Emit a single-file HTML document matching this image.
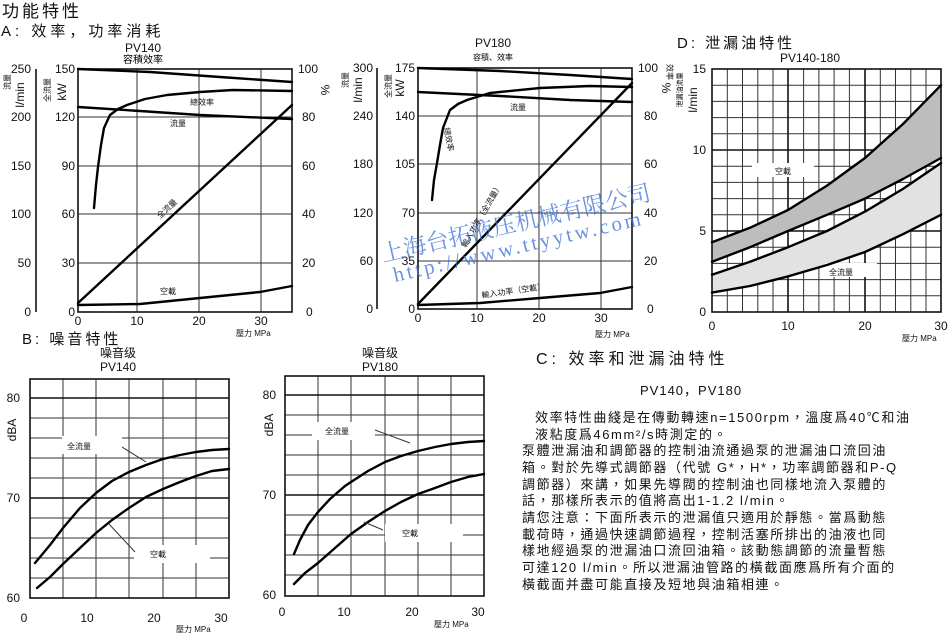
<!DOCTYPE html>
<html><head><meta charset="utf-8"><style>
html,body{margin:0;padding:0;background:#fff;}
svg{display:block;font-family:"Liberation Sans","Noto Sans CJK SC",sans-serif;}
.g{stroke:#333;stroke-width:1;fill:none}
.b{stroke:#111;stroke-width:1.6;fill:none}
.c{stroke:#000;stroke-width:2.4;fill:none;stroke-linejoin:round;stroke-linecap:round}
.t{font-size:12px;fill:#111}
.s{font-size:8px;fill:#111}
.body{font-size:13px;fill:#111;letter-spacing:1.6px;font-family:"Liberation Sans","Noto Sans CJK TC",sans-serif}
</style></head><body>
<svg width="950" height="633" viewBox="0 0 950 633" xmlns="http://www.w3.org/2000/svg">
<text x="2" y="17" font-size="17" fill="#111" letter-spacing="3">功能特性</text>
<text x="1" y="36" font-size="15" fill="#111" letter-spacing="4">A:  效率，功率消耗</text>

<!-- ===== A1 PV140 ===== -->
<text x="143" y="52" class="t" text-anchor="middle">PV140</text>
<text x="143" y="63" font-size="10" text-anchor="middle">容積效率</text>
<g class="g">
<line x1="137" y1="69" x2="137" y2="312"/><line x1="199" y1="69" x2="199" y2="312"/><line x1="261" y1="69" x2="261" y2="312"/>
<line x1="78" y1="117" x2="292" y2="117"/><line x1="78" y1="166" x2="292" y2="166"/><line x1="78" y1="214" x2="292" y2="214"/><line x1="78" y1="263" x2="292" y2="263"/>
</g>
<rect x="78" y="69" width="214" height="243" class="b"/>
<line x1="36" y1="69" x2="36" y2="312" class="b"/>
<g class="t" text-anchor="end">
<text x="31" y="73">250</text><text x="31" y="121">200</text><text x="31" y="170">150</text><text x="31" y="218">100</text><text x="31" y="267">50</text><text x="31" y="316">0</text>
<text x="75" y="73">150</text><text x="75" y="121">120</text><text x="75" y="170">90</text><text x="75" y="218">60</text><text x="75" y="267">30</text><text x="75" y="316">0</text>
</g>
<g class="t">
<text x="298" y="73">100</text><text x="302" y="121">80</text><text x="302" y="170">60</text><text x="302" y="218">40</text><text x="302" y="267">20</text><text x="306" y="316">0</text>
<text x="78" y="325" text-anchor="middle">0</text><text x="137" y="325" text-anchor="middle">10</text><text x="199" y="325" text-anchor="middle">20</text><text x="261" y="325" text-anchor="middle">30</text>
</g>
<text x="236" y="336" class="s">壓力  MPa</text>
<text transform="translate(10,82) rotate(-90)" class="s" text-anchor="middle">流量</text>
<text transform="translate(24,95) rotate(-90)" class="t" text-anchor="middle">l/min</text>
<text transform="translate(50,90) rotate(-90)" class="s" text-anchor="middle">全流量</text>
<text transform="translate(66,92) rotate(-90)" class="t" text-anchor="middle">kW</text>
<text transform="translate(321,90) rotate(90)" class="t" text-anchor="middle">%</text>
<polyline class="c" points="78,69 150,72 220,77 292,82"/>
<polyline class="c" points="78,107 140,111 200,115 292,119"/>
<polyline class="c" points="94,208 96,185 98,167 101,145 104,128 110,115 118,109 127,105 145,99 167,95 200,92 233,90 292,91"/>
<polyline class="c" points="78,303 292,105"/>
<polyline class="c" points="78,305 140,304 170,301 200,298 230,295 260,292 292,286"/>
<text x="190" y="105" class="s">總效率</text>
<text x="170" y="126" class="s">流量</text>
<text transform="translate(160,219) rotate(-43)" class="s">全流量</text>
<text x="160" y="294" class="s">空載</text>

<!-- ===== A2 PV180 ===== -->
<text x="493" y="47" class="t" text-anchor="middle">PV180</text>
<text x="493" y="60" font-size="8" text-anchor="middle">容積、效率</text>
<g class="g">
<line x1="477" y1="68" x2="477" y2="309"/><line x1="539" y1="68" x2="539" y2="309"/><line x1="601" y1="68" x2="601" y2="309"/>
<line x1="418" y1="116" x2="632" y2="116"/><line x1="418" y1="164" x2="632" y2="164"/><line x1="418" y1="213" x2="632" y2="213"/><line x1="418" y1="261" x2="632" y2="261"/>
</g>
<rect x="418" y="68" width="214" height="241" class="b"/>
<line x1="377" y1="68" x2="377" y2="309" class="b"/>
<g class="t" text-anchor="end">
<text x="373" y="72">300</text><text x="373" y="120">240</text><text x="373" y="168">180</text><text x="373" y="217">120</text><text x="373" y="265">60</text><text x="373" y="313">0</text>
<text x="415" y="72">175</text><text x="415" y="120">140</text><text x="415" y="168">105</text><text x="415" y="217">70</text><text x="415" y="265">35</text><text x="415" y="313">0</text>
</g>
<g class="t">
<text x="638" y="72">100</text><text x="644" y="120">80</text><text x="644" y="168">60</text><text x="644" y="217">40</text><text x="644" y="265">20</text><text x="647" y="313">0</text>
<text x="418" y="322" text-anchor="middle">0</text><text x="477" y="322" text-anchor="middle">10</text><text x="539" y="322" text-anchor="middle">20</text><text x="601" y="322" text-anchor="middle">30</text>
</g>
<text x="595" y="337" class="s">壓力  MPa</text>
<text transform="translate(348,80) rotate(-90)" class="s" text-anchor="middle">流量</text>
<text transform="translate(362,90) rotate(-90)" class="t" text-anchor="middle">l/min</text>
<text transform="translate(391,86) rotate(-90)" class="s" text-anchor="middle">全流量</text>
<text transform="translate(404,88) rotate(-90)" class="t" text-anchor="middle">kW</text>
<text transform="translate(662,88) rotate(90)" class="t" text-anchor="middle">%</text>
<text transform="translate(667,72) rotate(90)" class="s" text-anchor="middle">效率</text>
<polyline class="c" points="418,68 500,71 570,75 632,79"/>
<polyline class="c" points="418,92 500,96 570,100 632,102"/>
<polyline class="c" points="432,200 434,180 437,163 440,145 443,128 450,110 458,104 467,100 490,93 540,88 590,86 632,87"/>
<polyline class="c" points="418,304 632,83"/>
<polyline class="c" points="418,305 480,303 540,298 600,293 632,287"/>
<text x="510" y="110" class="s">流量</text>
<text transform="translate(444,128) rotate(80)" class="s">總效率</text>
<text transform="translate(466,248) rotate(-60)" class="s">輸入功率（全流量）</text>
<text transform="translate(482,298) rotate(-8)" class="s">輸入功率（空載）</text>

<!-- ===== D ===== -->
<text x="677" y="48" font-size="15" fill="#111" letter-spacing="3">D:  泄漏油特性</text>
<text x="810" y="62" class="t" text-anchor="middle">PV140-180</text>
<g class="g" stroke-width="0.9">
<line x1="727.3" y1="69" x2="727.3" y2="312"/><line x1="742.5" y1="69" x2="742.5" y2="312"/><line x1="757.8" y1="69" x2="757.8" y2="312"/><line x1="773" y1="69" x2="773" y2="312"/>
<line x1="803.6" y1="69" x2="803.6" y2="312"/><line x1="818.9" y1="69" x2="818.9" y2="312"/><line x1="834.1" y1="69" x2="834.1" y2="312"/><line x1="849.4" y1="69" x2="849.4" y2="312"/>
<line x1="880.3" y1="69" x2="880.3" y2="312"/><line x1="895.5" y1="69" x2="895.5" y2="312"/><line x1="910.8" y1="69" x2="910.8" y2="312"/><line x1="926" y1="69" x2="926" y2="312"/>
<line x1="712" y1="85.2" x2="941" y2="85.2"/><line x1="712" y1="101.4" x2="941" y2="101.4"/><line x1="712" y1="117.6" x2="941" y2="117.6"/><line x1="712" y1="133.8" x2="941" y2="133.8"/>
<line x1="712" y1="166.2" x2="941" y2="166.2"/><line x1="712" y1="182.4" x2="941" y2="182.4"/><line x1="712" y1="198.6" x2="941" y2="198.6"/><line x1="712" y1="214.8" x2="941" y2="214.8"/>
<line x1="712" y1="247.2" x2="941" y2="247.2"/><line x1="712" y1="263.4" x2="941" y2="263.4"/><line x1="712" y1="279.6" x2="941" y2="279.6"/><line x1="712" y1="295.8" x2="941" y2="295.8"/>
</g>
<g class="b"><line x1="788" y1="69" x2="788" y2="312"/><line x1="865" y1="69" x2="865" y2="312"/><line x1="712" y1="150" x2="941" y2="150"/><line x1="712" y1="231" x2="941" y2="231"/></g>
<polygon fill="#bdbdbd" points="712,242.3 750,227.8 788,210 827,185.6 865,158 903,124 941,85.2 941,158 903,179 865,198.6 827,214.8 788,231 750,247.2 712,261.8"/>
<polygon fill="#e2e2e2" points="712,274.7 750,261.8 788,247.2 827,231 865,211.6 903,188.9 941,163 941,214.8 903,234.2 865,252 827,265 788,276.4 750,286 712,292.6"/>
<rect x="712" y="69" width="229" height="243" class="b"/>
<rect x="752" y="163" width="62" height="14" fill="#fff"/>
<rect x="825" y="263" width="52" height="14" fill="#fff"/>
<polyline class="c" points="712,242.3 750,227.8 788,210 827,185.6 865,158 903,124 941,85.2"/>
<polyline class="c" points="712,261.8 750,247.2 788,231 827,214.8 865,198.6 903,179 941,158"/>
<polyline class="c" points="712,274.7 750,261.8 788,247.2 827,231 865,211.6 903,188.9 941,163"/>
<polyline class="c" points="712,292.6 750,286 788,276.4 827,265 865,252 903,234.2 941,214.8"/>
<text x="775" y="174" class="s">空載</text>
<text x="829" y="275" class="s">全流量</text>
<g class="t" text-anchor="end"><text x="706" y="73">15</text><text x="706" y="154">10</text><text x="706" y="235">5</text><text x="706" y="316">0</text></g>
<g class="t" text-anchor="middle"><text x="712" y="330">0</text><text x="788" y="330">10</text><text x="865" y="330">20</text><text x="941" y="330">30</text></g>
<text x="902" y="341" class="s">壓力  MPa</text>
<text transform="translate(697,100) rotate(-90)" class="t" text-anchor="middle">l/min</text>
<text transform="translate(682,90) rotate(-90)" font-size="7" text-anchor="middle">泄漏油流量</text>

<!-- ===== B ===== -->
<text x="22" y="344" font-size="15" fill="#111" letter-spacing="3">B:  噪音特性</text>
<!-- B1 -->
<text x="118" y="357" class="t" text-anchor="middle">噪音级</text>
<text x="118" y="371" class="t" text-anchor="middle">PV140</text>
<g class="g">
<line x1="63" y1="379" x2="63" y2="598"/><line x1="96" y1="379" x2="96" y2="598"/><line x1="129" y1="379" x2="129" y2="598"/><line x1="163" y1="379" x2="163" y2="598"/><line x1="196" y1="379" x2="196" y2="598"/>
<line x1="30" y1="418" x2="229" y2="418"/><line x1="30" y1="438" x2="229" y2="438"/><line x1="30" y1="458" x2="229" y2="458"/><line x1="30" y1="478" x2="229" y2="478"/>
<line x1="30" y1="518" x2="229" y2="518"/><line x1="30" y1="538" x2="229" y2="538"/><line x1="30" y1="558" x2="229" y2="558"/><line x1="30" y1="578" x2="229" y2="578"/>
</g>
<g class="b"><line x1="30" y1="398" x2="229" y2="398"/><line x1="30" y1="498" x2="229" y2="498"/></g>
<rect x="30" y="379" width="199" height="219" class="b"/>
<rect x="62" y="436" width="60" height="18" fill="#fff"/>
<rect x="134" y="545" width="76" height="18" fill="#fff"/>
<polyline class="c" points="35,563 40,557 50,545 63,528 80,508 96,493 112,481 129,472 146,465 163,459 180,455 196,452 212,450 229,449"/>
<polyline class="c" points="37,588 50,577 63,564 80,548 96,533 112,520 129,508 146,497 163,489 180,482 196,476 212,471 229,469"/>
<polyline class="g" points="122,447 146,462"/>
<polyline class="g" points="109,524 135,552"/>
<text x="67" y="449" class="s">全流量</text>
<text x="150" y="557" class="s">空載</text>
<g class="t" text-anchor="end"><text x="20" y="402">80</text><text x="20" y="502">70</text><text x="20" y="602">60</text></g>
<g class="t" text-anchor="middle"><text x="24" y="622">0</text><text x="87" y="622">10</text><text x="154" y="622">20</text><text x="221" y="622">30</text></g>
<text x="176" y="632" class="s">壓力  MPa</text>
<text transform="translate(16,430) rotate(-90)" class="t" text-anchor="middle">dBA</text>
<!-- B2 -->
<text x="380" y="357" class="t" text-anchor="middle">噪音级</text>
<text x="380" y="371" class="t" text-anchor="middle">PV180</text>
<g class="g">
<line x1="318" y1="376" x2="318" y2="596"/><line x1="351" y1="376" x2="351" y2="596"/><line x1="385" y1="376" x2="385" y2="596"/><line x1="418" y1="376" x2="418" y2="596"/><line x1="451" y1="376" x2="451" y2="596"/>
<line x1="285" y1="415" x2="484" y2="415"/><line x1="285" y1="435" x2="484" y2="435"/><line x1="285" y1="455" x2="484" y2="455"/><line x1="285" y1="475" x2="484" y2="475"/>
<line x1="285" y1="515" x2="484" y2="515"/><line x1="285" y1="535" x2="484" y2="535"/><line x1="285" y1="555" x2="484" y2="555"/><line x1="285" y1="575" x2="484" y2="575"/>
</g>
<g class="b"><line x1="285" y1="395" x2="484" y2="395"/><line x1="285" y1="495" x2="484" y2="495"/></g>
<rect x="285" y="376" width="199" height="220" class="b"/>
<rect x="312" y="422" width="63" height="18" fill="#fff"/>
<rect x="385" y="524" width="78" height="18" fill="#fff"/>
<polyline class="c" points="294,554 300,540 308,525 318,512 330,499 345,486 351,482 368,471 385,462 401,456 418,451 435,447 451,444 468,442 484,441"/>
<polyline class="c" points="294,584 305,573 318,563 335,548 351,534 368,522 385,511 401,502 418,494 435,488 451,482 468,477 484,474"/>
<polyline class="g" points="375,430 410,443"/>
<polyline class="g" points="364,522 383,530"/>
<text x="325" y="434" class="s">全流量</text>
<text x="402" y="536" class="s">空載</text>
<g class="t" text-anchor="end"><text x="276" y="399">80</text><text x="276" y="499">70</text><text x="276" y="599">60</text></g>
<g class="t" text-anchor="middle"><text x="282" y="616">0</text><text x="344" y="616">10</text><text x="412" y="616">20</text><text x="478" y="616">30</text></g>
<text x="434" y="627" class="s">壓力  MPa</text>
<text transform="translate(273,425) rotate(-90)" class="t" text-anchor="middle">dBA</text>

<!-- ===== C ===== -->
<text x="536" y="364" font-size="16" fill="#111" letter-spacing="4">C:  效率和泄漏油特性</text>
<text x="640" y="395" font-size="13" fill="#111" letter-spacing="1">PV140，PV180</text>
<g class="body">
<text x="535" y="422">效率特性曲綫是在傳動轉速n=1500rpm，溫度爲40℃和油</text>
<text x="535" y="439">液粘度爲46mm²/s時測定的。</text>
<text x="522" y="455">泵體泄漏油和調節器的控制油流通過泵的泄漏油口流回油</text>
<text x="522" y="472">箱。對於先導式調節器（代號 G*，H*，功率調節器和P-Q</text>
<text x="522" y="489">調節器）來講，如果先導閥的控制油也同樣地流入泵體的</text>
<text x="522" y="505">話，那樣所表示的值將高出1-1.2 l/min。</text>
<text x="522" y="522">請您注意：下面所表示的泄漏值只適用於靜態。當爲動態</text>
<text x="522" y="539">載荷時，通過快速調節過程，控制活塞所排出的油液也同</text>
<text x="522" y="555">樣地經過泵的泄漏油口流回油箱。該動態調節的流量暫態</text>
<text x="522" y="572">可達120 l/min。所以泄漏油管路的橫截面應爲所有介面的</text>
<text x="522" y="589">橫截面并盡可能直接及短地與油箱相連。</text>
</g>

<!-- watermark -->
<text transform="translate(383,262) rotate(-13)" font-size="23" fill="#3b6fd6" fill-opacity="0.75" font-family="'Noto Serif CJK SC',serif">上海台拓液压机械有限公司</text>
<text transform="translate(395,282) rotate(-13)" font-size="21" fill="#3b6fd6" fill-opacity="0.75" font-family="'Liberation Serif',serif" letter-spacing="3">http://www.ttyytw.com</text>
</svg>
</body></html>
